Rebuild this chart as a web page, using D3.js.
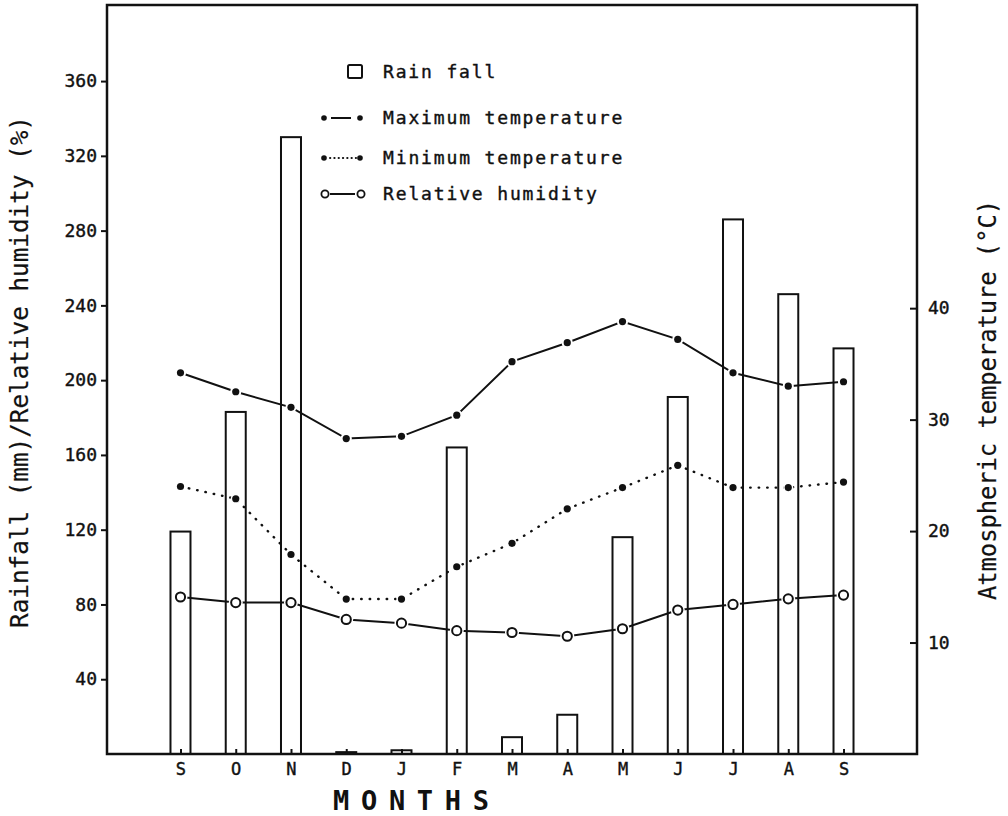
<!DOCTYPE html>
<html lang="en">

<head>
  <meta charset="UTF-8">
  <title>Rainfall, temperature and humidity</title>
  <style>
    body {
      margin: 0;
      background: #fff;
    }

    svg text {
      font-family: "DejaVu Sans Mono", monospace;
      fill: #111;
      stroke: #111;
      stroke-width: 0.4px;
    }

    .tick line {
      stroke: #111;
      stroke-width: 2;
    }
  </style>
</head>

<body>
  <div class="container"></div>
  <script src="https://d3js.org/d3.v7.min.js"></script>
  <script>
    // months from September to September
    const months = ['S', 'O', 'N', 'D', 'J', 'F', 'M', 'A', 'M', 'J', 'J', 'A', 'S']
    const rainfall = [119, 183, 330, 1, 2, 164, 9, 21, 116, 191, 286, 246, 217]
    const maxTemp = [34.2, 32.5, 31.1, 28.3, 28.5, 30.4, 35.2, 36.9, 38.8, 37.2, 34.2, 33.0, 33.4]
    const minTemp = [24.0, 22.9, 17.9, 13.9, 13.9, 16.8, 18.9, 22.0, 23.9, 25.9, 23.9, 23.9, 24.4]
    const humidity = [84, 81, 81, 72, 70, 66, 65, 63, 67, 77, 80, 83, 85]

    const leftTicks = [40, 80, 120, 160, 200, 240, 280, 320, 360]
    const rightTicks = [10, 20, 30, 40]
    const legendLabels = ['Rain fall', 'Maximum temperature', 'Minimum temperature', 'Relative humidity']

    const W = 1008, H = 816
    const mL = 107, mR = 917, mT = 5, mB = 754

    const svg = d3.select('.container')
      .append('svg')
      .attr('width', W)
      .attr('height', H)

    const idx = months.map((d, i) => i)

    const x = d3.scalePoint()
      .domain(idx)
      .range([mL, mR])
      .padding(1.33)

    const yLeft = d3.scaleLinear()
      .domain([0, 400.7])
      .range([mB, mT])

    const yRight = d3.scaleLinear()
      .domain([0, 67.2])
      .range([mB, mT])

    // bars (rainfall)
    svg.append('g')
      .selectAll('rect')
      .data(rainfall)
      .enter()
      .append('rect')
      .attr('x', (d, i) => x(i) - 10)
      .attr('y', d => yLeft(d))
      .attr('width', 20)
      .attr('height', d => mB - yLeft(d))
      .attr('fill', '#fff')
      .attr('stroke', '#111')
      .attr('stroke-width', 2)

    // frame
    svg.append('rect')
      .attr('x', mL)
      .attr('y', mT)
      .attr('width', mR - mL)
      .attr('height', mB - mT)
      .attr('fill', 'none')
      .attr('stroke', '#111')
      .attr('stroke-width', 2.5)

    // axes
    const gl = svg.append('g')
      .attr('transform', `translate(${mL},0)`)
      .call(d3.axisLeft(yLeft).tickValues(leftTicks).tickSize(6).tickPadding(4))
    gl.select('.domain').remove()
    gl.selectAll('text').style('font-size', '18px')

    const gr = svg.append('g')
      .attr('transform', `translate(${mR},0)`)
      .call(d3.axisRight(yRight).tickValues(rightTicks).tickSize(-7).tickPadding(11))
    gr.select('.domain').remove()
    gr.selectAll('text').style('font-size', '18px')

    const gb = svg.append('g')
      .attr('transform', `translate(0,${mB})`)
      .call(d3.axisBottom(x).tickSize(-5).tickPadding(9).tickFormat(i => months[i]))
    gb.select('.domain').remove()
    gb.selectAll('text').style('font-size', '17px')

    // lines
    const lineTemp = d3.line().x((d, i) => x(i)).y(d => yRight(d))
    const lineHum = d3.line().x((d, i) => x(i)).y(d => yLeft(d))

    svg.append('path')
      .attr('d', lineTemp(maxTemp))
      .attr('fill', 'none')
      .attr('stroke', '#111')
      .attr('stroke-width', 2)

    svg.append('path')
      .attr('d', lineTemp(minTemp))
      .attr('fill', 'none')
      .attr('stroke', '#111')
      .attr('stroke-width', 2.4)
      .attr('stroke-linecap', 'round')
      .attr('stroke-dasharray', '0.5,8')

    svg.append('path')
      .attr('d', lineHum(humidity))
      .attr('fill', 'none')
      .attr('stroke', '#111')
      .attr('stroke-width', 2)

    // markers, white halo makes the small gaps around points
    svg.append('g')
      .selectAll('circle')
      .data(maxTemp)
      .enter()
      .append('circle')
      .attr('cx', (d, i) => x(i))
      .attr('cy', d => yRight(d))
      .attr('r', 3.6)
      .attr('fill', '#111')
      .attr('stroke', '#fff')
      .attr('stroke-width', 4)
      .attr('paint-order', 'stroke')

    svg.append('g')
      .selectAll('circle')
      .data(minTemp)
      .enter()
      .append('circle')
      .attr('cx', (d, i) => x(i))
      .attr('cy', d => yRight(d))
      .attr('r', 3.6)
      .attr('fill', '#111')
      .attr('stroke', '#fff')
      .attr('stroke-width', 3)
      .attr('paint-order', 'stroke')

    const hum = svg.append('g')
      .selectAll('g')
      .data(humidity)
      .enter()
      .append('g')
    hum.append('circle')
      .attr('cx', (d, i) => x(i))
      .attr('cy', d => yLeft(d))
      .attr('r', 7)
      .attr('fill', '#fff')
    hum.append('circle')
      .attr('cx', (d, i) => x(i))
      .attr('cy', d => yLeft(d))
      .attr('r', 4.6)
      .attr('fill', '#fff')
      .attr('stroke', '#111')
      .attr('stroke-width', 2)

    // legend
    const lg = svg.append('g')
    const rowY = [72, 118, 158, 194]

    lg.append('rect')
      .attr('x', 348).attr('y', rowY[0] - 7)
      .attr('width', 14).attr('height', 13)
      .attr('rx', 1.5)
      .attr('fill', '#fff').attr('stroke', '#111').attr('stroke-width', 2)

    // max temp symbol
    lg.append('line').attr('x1', 331).attr('x2', 351).attr('y1', rowY[1]).attr('y2', rowY[1])
      .attr('stroke', '#111').attr('stroke-width', 2)
    lg.selectAll('.mx').data([324, 360]).enter().append('circle')
      .attr('class', 'mx')
      .attr('cx', d => d).attr('cy', rowY[1]).attr('r', 2.8).attr('fill', '#111')

    // min temp symbol
    lg.append('line').attr('x1', 330).attr('x2', 356).attr('y1', rowY[2]).attr('y2', rowY[2])
      .attr('stroke', '#111').attr('stroke-width', 2).attr('stroke-linecap', 'round')
      .attr('stroke-dasharray', '0.3,4')
    lg.selectAll('.mn').data([324, 360]).enter().append('circle')
      .attr('class', 'mn')
      .attr('cx', d => d).attr('cy', rowY[2]).attr('r', 2.8).attr('fill', '#111')

    // humidity symbol
    lg.append('line').attr('x1', 330).attr('x2', 355).attr('y1', rowY[3]).attr('y2', rowY[3])
      .attr('stroke', '#111').attr('stroke-width', 2)
    lg.selectAll('.rh').data([325, 361]).enter().append('circle')
      .attr('class', 'rh')
      .attr('cx', d => d).attr('cy', rowY[3]).attr('r', 3.6)
      .attr('fill', '#fff').attr('stroke', '#111').attr('stroke-width', 1.8)

    lg.selectAll('.lbl')
      .data(legendLabels)
      .enter()
      .append('text')
      .attr('class', 'lbl')
      .attr('x', 383)
      .attr('y', (d, i) => rowY[i] + 6)
      .attr('textLength', d => d.length * 12.7 - 2)
      .attr('lengthAdjust', 'spacing')
      .style('font-size', '18px')
      .text(d => d)

    // axis titles
    svg.append('text')
      .attr('transform', 'translate(28,372) rotate(-90)')
      .attr('text-anchor', 'middle')
      .attr('textLength', 512)
      .attr('lengthAdjust', 'spacingAndGlyphs')
      .style('font-size', '24px')
      .style('stroke-width', '0.2px')
      .text('Rainfall (mm)/Relative humidity (%)')

    svg.append('text')
      .attr('transform', 'translate(996,400) rotate(-90)')
      .attr('text-anchor', 'middle')
      .attr('textLength', 400)
      .attr('lengthAdjust', 'spacingAndGlyphs')
      .style('font-size', '24px')
      .style('stroke-width', '0.2px')
      .text('Atmospheric temperature (°C)')

    svg.append('text')
      .attr('x', 333)
      .attr('y', 810)
      .attr('textLength', 156)
      .attr('lengthAdjust', 'spacing')
      .style('font-size', '27px')
      .style('font-weight', 'bold')
      .style('stroke-width', '0px')
      .text('MONTHS')
  </script>
</body>

</html>
